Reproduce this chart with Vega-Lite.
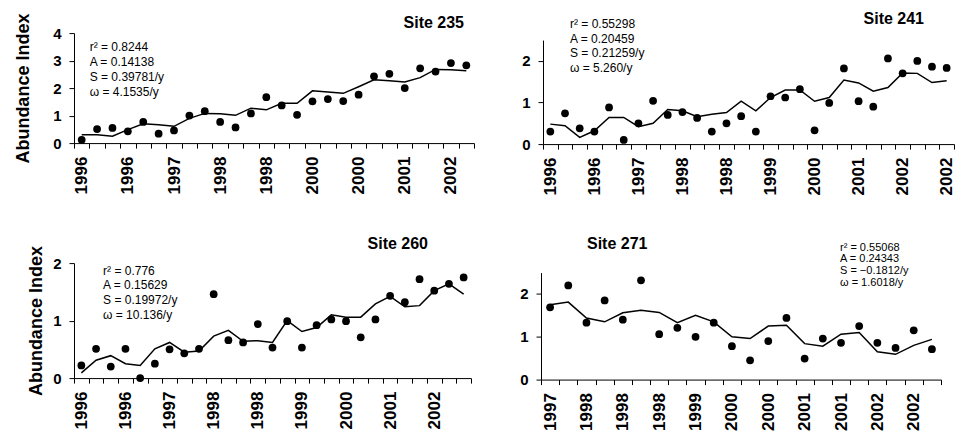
{
  "$schema": "https://vega.github.io/schema/vega-lite/v6.json",
  "padding": {"left": 14, "top": 10, "right": 0, "bottom": 0},
  "background": "white",
  "config": {
    "font": "Liberation Sans",
    "view": {"stroke": null},
    "axis": {"domainColor": "#000", "tickColor": "#000", "labelColor": "#000", "titleColor": "#000", "grid": false, "labelFontWeight": "bold", "tickSize": 5, "labelPadding": 8, "domainWidth": 1, "tickWidth": 1},
    "axisY": {"labelFontSize": 15, "format": "~g", "labelOverlap": false},
    "axisX": {"labelFontSize": 17},
    "title": {"fontSize": 16, "fontWeight": "bold", "color": "#000", "frame": "group"},
    "text": {"color": "#000"}
  },
  "datasets": {
    "obs": [
      {"site": 235, "k": "01|1996", "obs": 0.12, "fit": 0.3},
      {"site": 235, "k": "02|", "obs": 0.51, "fit": 0.3},
      {"site": 235, "k": "03|", "obs": 0.55, "fit": 0.25},
      {"site": 235, "k": "04|1996", "obs": 0.43, "fit": 0.49},
      {"site": 235, "k": "05|", "obs": 0.77, "fit": 0.7},
      {"site": 235, "k": "06|", "obs": 0.34, "fit": 0.67},
      {"site": 235, "k": "07|1997", "obs": 0.46, "fit": 0.61},
      {"site": 235, "k": "08|", "obs": 1.0, "fit": 0.9},
      {"site": 235, "k": "09|", "obs": 1.16, "fit": 1.08},
      {"site": 235, "k": "10|1998", "obs": 0.77, "fit": 1.07},
      {"site": 235, "k": "11|", "obs": 0.57, "fit": 1.01},
      {"site": 235, "k": "12|", "obs": 1.08, "fit": 1.27},
      {"site": 235, "k": "13|1998", "obs": 1.67, "fit": 1.21},
      {"site": 235, "k": "14|", "obs": 1.37, "fit": 1.45},
      {"site": 235, "k": "15|", "obs": 1.03, "fit": 1.45},
      {"site": 235, "k": "16|2000", "obs": 1.52, "fit": 1.9},
      {"site": 235, "k": "17|", "obs": 1.6, "fit": 1.86},
      {"site": 235, "k": "18|", "obs": 1.53, "fit": 1.81},
      {"site": 235, "k": "19|2000", "obs": 1.76, "fit": 2.05},
      {"site": 235, "k": "20|", "obs": 2.43, "fit": 2.3},
      {"site": 235, "k": "21|", "obs": 2.52, "fit": 2.27},
      {"site": 235, "k": "22|2001", "obs": 2.0, "fit": 2.22},
      {"site": 235, "k": "23|", "obs": 2.72, "fit": 2.38},
      {"site": 235, "k": "24|", "obs": 2.6, "fit": 2.68},
      {"site": 235, "k": "25|2002", "obs": 2.91, "fit": 2.67},
      {"site": 235, "k": "26|", "obs": 2.83, "fit": 2.63},
      {"site": 241, "k": "01|1996", "obs": 0.3, "fit": 0.48},
      {"site": 241, "k": "02|", "obs": 0.74, "fit": 0.44},
      {"site": 241, "k": "03|", "obs": 0.38, "fit": 0.16},
      {"site": 241, "k": "04|1996", "obs": 0.3, "fit": 0.32},
      {"site": 241, "k": "05|", "obs": 0.88, "fit": 0.64},
      {"site": 241, "k": "06|", "obs": 0.1, "fit": 0.64},
      {"site": 241, "k": "07|1997", "obs": 0.5, "fit": 0.42},
      {"site": 241, "k": "08|", "obs": 1.04, "fit": 0.5},
      {"site": 241, "k": "09|", "obs": 0.7, "fit": 0.83},
      {"site": 241, "k": "10|1998", "obs": 0.77, "fit": 0.8},
      {"site": 241, "k": "11|", "obs": 0.63, "fit": 0.66},
      {"site": 241, "k": "12|", "obs": 0.3, "fit": 0.72},
      {"site": 241, "k": "13|1998", "obs": 0.5, "fit": 0.76},
      {"site": 241, "k": "14|", "obs": 0.67, "fit": 1.03},
      {"site": 241, "k": "15|", "obs": 0.3, "fit": 0.8},
      {"site": 241, "k": "16|1999", "obs": 1.15, "fit": 1.12},
      {"site": 241, "k": "17|", "obs": 1.12, "fit": 1.3},
      {"site": 241, "k": "18|", "obs": 1.32, "fit": 1.3},
      {"site": 241, "k": "19|2000", "obs": 0.33, "fit": 1.03},
      {"site": 241, "k": "20|", "obs": 0.99, "fit": 1.12},
      {"site": 241, "k": "21|", "obs": 1.82, "fit": 1.54},
      {"site": 241, "k": "22|2001", "obs": 1.03, "fit": 1.47},
      {"site": 241, "k": "23|", "obs": 0.9, "fit": 1.27},
      {"site": 241, "k": "24|", "obs": 2.06, "fit": 1.36},
      {"site": 241, "k": "25|2002", "obs": 1.7, "fit": 1.71},
      {"site": 241, "k": "26|", "obs": 2.0, "fit": 1.7},
      {"site": 241, "k": "27|", "obs": 1.86, "fit": 1.48},
      {"site": 241, "k": "28|2002", "obs": 1.83, "fit": 1.52},
      {"site": 260, "k": "01|1996", "obs": 0.22, "fit": 0.09},
      {"site": 260, "k": "02|", "obs": 0.51, "fit": 0.31},
      {"site": 260, "k": "03|", "obs": 0.2, "fit": 0.39},
      {"site": 260, "k": "04|1996", "obs": 0.51, "fit": 0.25},
      {"site": 260, "k": "05|", "obs": 0.0, "fit": 0.22},
      {"site": 260, "k": "06|", "obs": 0.25, "fit": 0.51},
      {"site": 260, "k": "07|1997", "obs": 0.5, "fit": 0.62},
      {"site": 260, "k": "08|", "obs": 0.43, "fit": 0.45},
      {"site": 260, "k": "09|", "obs": 0.51, "fit": 0.47},
      {"site": 260, "k": "10|1998", "obs": 1.46, "fit": 0.73},
      {"site": 260, "k": "11|", "obs": 0.66, "fit": 0.83},
      {"site": 260, "k": "12|", "obs": 0.62, "fit": 0.64},
      {"site": 260, "k": "13|1998", "obs": 0.94, "fit": 0.65},
      {"site": 260, "k": "14|", "obs": 0.53, "fit": 0.62},
      {"site": 260, "k": "15|", "obs": 0.99, "fit": 1.0},
      {"site": 260, "k": "16|1999", "obs": 0.53, "fit": 0.81},
      {"site": 260, "k": "17|", "obs": 0.92, "fit": 0.88},
      {"site": 260, "k": "18|", "obs": 1.02, "fit": 1.1},
      {"site": 260, "k": "19|2000", "obs": 0.99, "fit": 1.06},
      {"site": 260, "k": "20|", "obs": 0.71, "fit": 1.06},
      {"site": 260, "k": "21|", "obs": 1.02, "fit": 1.29},
      {"site": 260, "k": "22|2001", "obs": 1.43, "fit": 1.42},
      {"site": 260, "k": "23|", "obs": 1.32, "fit": 1.24},
      {"site": 260, "k": "24|", "obs": 1.72, "fit": 1.26},
      {"site": 260, "k": "25|2002", "obs": 1.52, "fit": 1.52},
      {"site": 260, "k": "26|", "obs": 1.64, "fit": 1.64},
      {"site": 260, "k": "27|", "obs": 1.75, "fit": 1.46},
      {"site": 271, "k": "01|1997", "obs": 1.69, "fit": 1.75},
      {"site": 271, "k": "02|", "obs": 2.2, "fit": 1.81},
      {"site": 271, "k": "03|1998", "obs": 1.33, "fit": 1.44},
      {"site": 271, "k": "04|", "obs": 1.85, "fit": 1.35},
      {"site": 271, "k": "05|1998", "obs": 1.4, "fit": 1.56},
      {"site": 271, "k": "06|", "obs": 2.32, "fit": 1.62},
      {"site": 271, "k": "07|1998", "obs": 1.06, "fit": 1.57},
      {"site": 271, "k": "08|", "obs": 1.21, "fit": 1.33},
      {"site": 271, "k": "09|1999", "obs": 1.0, "fit": 1.5},
      {"site": 271, "k": "10|", "obs": 1.33, "fit": 1.35},
      {"site": 271, "k": "11|2000", "obs": 0.78, "fit": 1.0},
      {"site": 271, "k": "12|", "obs": 0.45, "fit": 0.96},
      {"site": 271, "k": "13|2000", "obs": 0.9, "fit": 1.25},
      {"site": 271, "k": "14|", "obs": 1.44, "fit": 1.27},
      {"site": 271, "k": "15|2001", "obs": 0.49, "fit": 0.84},
      {"site": 271, "k": "16|", "obs": 0.96, "fit": 0.78},
      {"site": 271, "k": "17|2001", "obs": 0.86, "fit": 1.06},
      {"site": 271, "k": "18|", "obs": 1.25, "fit": 1.1},
      {"site": 271, "k": "19|2002", "obs": 0.86, "fit": 0.65},
      {"site": 271, "k": "20|", "obs": 0.74, "fit": 0.59},
      {"site": 271, "k": "21|2002", "obs": 1.15, "fit": 0.8},
      {"site": 271, "k": "22|", "obs": 0.71, "fit": 0.94}
    ],
    "notes": [
      {"site": 235, "note": ["r² = 0.8244", "A = 0.14138", "S = 0.39781/y", "ω = 4.1535/y"]},
      {"site": 241, "note": ["r² = 0.55298", "A = 0.20459", "S = 0.21259/y", "ω = 5.260/y"]},
      {"site": 260, "note": ["r² = 0.776", "A = 0.15629", "S = 0.19972/y", "ω = 10.136/y"]},
      {"site": 271, "note": ["r² = 0.55068", "A = 0.24343", "S = −0.1812/y", "ω = 1.6018/y"]}
    ]
  },
  "spacing": 33,
  "vconcat": [
    {
      "spacing": 46,
      "center": true,
      "hconcat": [
        {
          "width": 400, "height": 110,
          "title": {"text": "Site 235", "anchor": "end", "dx": -10, "offset": -18},
          "layer": [
            {
              "data": {"name": "obs"},
              "transform": [{"filter": "datum.site == 235"}],
              "mark": {"type": "line", "color": "#000", "strokeWidth": 1.5},
              "encoding": {
                "x": {"field": "k", "type": "ordinal", "sort": "ascending", "scale": {"type": "band", "paddingInner": 0, "paddingOuter": 0}, "axis": {"labelExpr": "isValid(datum.value) ? slice(datum.value, 3) : ''", "labelAngle": -90, "tickBand": "extent", "labelOverlap": false, "title": " ", "titleFontSize": 8, "titlePadding": 0}},
                "y": {"field": "fit", "type": "quantitative", "scale": {"domain": [0, 4], "nice": false}, "axis": {"values": [0, 1, 2, 3, 4], "tickCount": 5, "labelOverlap": false, "title": "Abundance Index", "titleFontSize": 18, "titleFontWeight": "bold", "titlePadding": 20}}
              }
            },
            {
              "data": {"name": "obs"},
              "transform": [{"filter": "datum.site == 235"}],
              "mark": {"type": "circle", "color": "#000", "size": 60, "opacity": 1},
              "encoding": {
                "x": {"field": "k", "type": "ordinal", "sort": "ascending", "axis": {"labelExpr": "isValid(datum.value) ? slice(datum.value, 3) : ''", "labelAngle": -90, "tickBand": "extent", "labelOverlap": false, "title": " ", "titleFontSize": 8, "titlePadding": 0}},
                "y": {"field": "obs", "type": "quantitative", "axis": {"values": [0, 1, 2, 3, 4], "tickCount": 5, "labelOverlap": false, "title": "Abundance Index", "titleFontSize": 18, "titleFontWeight": "bold", "titlePadding": 20}}
              }
            },
            {
              "data": {"name": "notes"},
              "transform": [{"filter": "datum.site == 235"}],
              "mark": {"type": "text", "align": "left", "baseline": "top", "fontSize": 12, "lineHeight": 15.2, "dx": 8},
              "encoding": {
                "x": {"datum": "01|1996", "type": "ordinal"},
                "y": {"datum": 3.68, "type": "quantitative", "axis": {"values": [0, 1, 2, 3, 4], "tickCount": 5, "labelOverlap": false, "title": "Abundance Index", "titleFontSize": 18, "titleFontWeight": "bold", "titlePadding": 20}},
                "text": {"field": "note"}
              }
            }
          ]
        },
        {
          "width": 411, "height": 104,
          "title": {"text": "Site 241", "anchor": "end", "dx": -30, "offset": -8.5},
          "layer": [
            {
              "data": {"name": "obs"},
              "transform": [{"filter": "datum.site == 241"}],
              "mark": {"type": "line", "color": "#000", "strokeWidth": 1.5},
              "encoding": {
                "x": {"field": "k", "type": "ordinal", "sort": "ascending", "scale": {"type": "band", "paddingInner": 0, "paddingOuter": 0}, "axis": {"labelExpr": "isValid(datum.value) ? slice(datum.value, 3) : ''", "labelAngle": -90, "tickBand": "extent", "labelOverlap": false, "title": null}},
                "y": {"field": "fit", "type": "quantitative", "scale": {"domain": [0, 2.5], "nice": false}, "axis": {"values": [0, 0.5, 1, 1.5, 2, 2.5], "tickCount": 5, "labelOverlap": false, "title": null}}
              }
            },
            {
              "data": {"name": "obs"},
              "transform": [{"filter": "datum.site == 241"}],
              "mark": {"type": "circle", "color": "#000", "size": 60, "opacity": 1},
              "encoding": {
                "x": {"field": "k", "type": "ordinal", "sort": "ascending", "axis": {"labelExpr": "isValid(datum.value) ? slice(datum.value, 3) : ''", "labelAngle": -90, "tickBand": "extent", "labelOverlap": false, "title": null}},
                "y": {"field": "obs", "type": "quantitative", "axis": {"values": [0, 0.5, 1, 1.5, 2, 2.5], "tickCount": 5, "labelOverlap": false, "title": null}}
              }
            },
            {
              "data": {"name": "notes"},
              "transform": [{"filter": "datum.site == 241"}],
              "mark": {"type": "text", "align": "left", "baseline": "top", "fontSize": 12, "lineHeight": 14.5, "dx": 5},
              "encoding": {
                "x": {"datum": "02|", "type": "ordinal"},
                "y": {"datum": 3.0, "type": "quantitative", "axis": {"values": [0, 0.5, 1, 1.5, 2, 2.5], "tickCount": 5, "labelOverlap": false, "title": null}},
                "text": {"field": "note"}
              }
            }
          ]
        }
      ]
    },
    {
      "spacing": 47,
      "center": true,
      "hconcat": [
        {
          "width": 397, "height": 115,
          "title": {"text": "Site 260", "anchor": "end", "dx": -43, "offset": -6},
          "layer": [
            {
              "data": {"name": "obs"},
              "transform": [{"filter": "datum.site == 260"}],
              "mark": {"type": "line", "color": "#000", "strokeWidth": 1.5},
              "encoding": {
                "x": {"field": "k", "type": "ordinal", "sort": "ascending", "scale": {"type": "band", "paddingInner": 0, "paddingOuter": 0}, "axis": {"labelExpr": "isValid(datum.value) ? slice(datum.value, 3) : ''", "labelAngle": -90, "tickBand": "extent", "labelOverlap": false, "title": " ", "titleFontSize": 12, "titlePadding": 0}},
                "y": {"field": "fit", "type": "quantitative", "scale": {"domain": [0, 2], "nice": false}, "axis": {"values": [0, 0.5, 1, 1.5, 2], "tickCount": 4, "labelOverlap": false, "title": "Abundance Index", "titleFontSize": 18, "titleFontWeight": "bold", "titlePadding": 7.5}}
              }
            },
            {
              "data": {"name": "obs"},
              "transform": [{"filter": "datum.site == 260"}],
              "mark": {"type": "circle", "color": "#000", "size": 60, "opacity": 1},
              "encoding": {
                "x": {"field": "k", "type": "ordinal", "sort": "ascending", "axis": {"labelExpr": "isValid(datum.value) ? slice(datum.value, 3) : ''", "labelAngle": -90, "tickBand": "extent", "labelOverlap": false, "title": " ", "titleFontSize": 12, "titlePadding": 0}},
                "y": {"field": "obs", "type": "quantitative", "axis": {"values": [0, 0.5, 1, 1.5, 2], "tickCount": 4, "labelOverlap": false, "title": "Abundance Index", "titleFontSize": 18, "titleFontWeight": "bold", "titlePadding": 7.5}}
              }
            },
            {
              "data": {"name": "notes"},
              "transform": [{"filter": "datum.site == 260"}],
              "mark": {"type": "text", "align": "left", "baseline": "top", "fontSize": 12, "lineHeight": 14.7, "dx": 7},
              "encoding": {
                "x": {"datum": "02|", "type": "ordinal"},
                "y": {"datum": 1.957, "type": "quantitative", "axis": {"values": [0, 0.5, 1, 1.5, 2], "tickCount": 4, "labelOverlap": false, "title": "Abundance Index", "titleFontSize": 18, "titleFontWeight": "bold", "titlePadding": 7.5}},
                "text": {"field": "note"}
              }
            }
          ]
        },
        {
          "width": 400, "height": 107,
          "title": {"text": "Site 271", "anchor": "start", "dx": 46, "offset": -10.5},
          "layer": [
            {
              "data": {"name": "obs"},
              "transform": [{"filter": "datum.site == 271"}],
              "mark": {"type": "line", "color": "#000", "strokeWidth": 1.5},
              "encoding": {
                "x": {"field": "k", "type": "ordinal", "sort": "ascending", "scale": {"type": "band", "paddingInner": 0, "paddingOuter": 0}, "axis": {"labelExpr": "isValid(datum.value) ? slice(datum.value, 3) : ''", "labelAngle": -90, "tickBand": "extent", "labelOverlap": false, "title": null}},
                "y": {"field": "fit", "type": "quantitative", "scale": {"domain": [0, 2.5], "nice": false}, "axis": {"values": [0, 0.5, 1, 1.5, 2, 2.5], "tickCount": 5, "labelOverlap": false, "title": null}}
              }
            },
            {
              "data": {"name": "obs"},
              "transform": [{"filter": "datum.site == 271"}],
              "mark": {"type": "circle", "color": "#000", "size": 60, "opacity": 1},
              "encoding": {
                "x": {"field": "k", "type": "ordinal", "sort": "ascending", "axis": {"labelExpr": "isValid(datum.value) ? slice(datum.value, 3) : ''", "labelAngle": -90, "tickBand": "extent", "labelOverlap": false, "title": null}},
                "y": {"field": "obs", "type": "quantitative", "axis": {"values": [0, 0.5, 1, 1.5, 2, 2.5], "tickCount": 5, "labelOverlap": false, "title": null}}
              }
            },
            {
              "data": {"name": "notes"},
              "transform": [{"filter": "datum.site == 271"}],
              "mark": {"type": "text", "align": "left", "baseline": "top", "fontSize": 11, "lineHeight": 11.7, "dx": -1},
              "encoding": {
                "x": {"datum": "17|2001", "type": "ordinal"},
                "y": {"datum": 3.22, "type": "quantitative", "axis": {"values": [0, 0.5, 1, 1.5, 2, 2.5], "tickCount": 5, "labelOverlap": false, "title": null}},
                "text": {"field": "note"}
              }
            }
          ]
        }
      ]
    }
  ]
}
